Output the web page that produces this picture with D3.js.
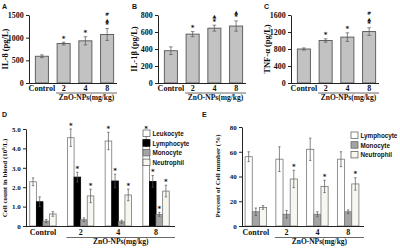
<!DOCTYPE html>
<html>
<head>
<meta charset="utf-8">
<script src="https://cdnjs.cloudflare.com/ajax/libs/d3/7.8.5/d3.min.js"></script>
<style>
  body { margin: 0; background: #fff; }
  svg text { font-family: "Liberation Serif", "Times New Roman", serif; font-weight: bold; fill: #111; }
  .letter, .legend text { font-family: "Liberation Sans", Arial, sans-serif; }
  .axis path, .axis line { stroke: #222; stroke-width: 1; }
</style>
</head>
<body>
<div id="container"></div>
<script>
const WIDTH = 400;
const HEIGHT = 248;

var DOSES = ["Control", "2", "4", "8"];

// top row: cytokines
var IL8 = [590, 870, 930, 1070];
var IL8_ERR = [30, 30, 90, 130];
var IL8_MARKS = [[], ["*"], ["*"], ["*", "▲", "#"]];

var IL1B = [380, 575, 645, 670];
var IL1B_ERR = [45, 30, 35, 60];
var IL1B_MARKS = [[], ["*"], ["*", "▲"], ["*", "▲"]];

var TNF = [800, 1000, 1080, 1210];
var TNF_ERR = [25, 40, 100, 90];
var TNF_MARKS = [[], ["*"], ["*"], ["*", "▲", "#"]];

// panel D: cell count
var CELLS_D = ["Leukocyte", "Lymphocyte", "Monocyte", "Neutrophil"];
var FILLS_D = ["#ffffff", "#000000", "#a4a4a4", "#f7f6ef"];
var LEUKOCYTE = [2.28, 4.55, 4.38, 4.45];
var LEUKOCYTE_ERR = [0.2, 0.45, 0.45, 0.35];
var LYMPH_D = [1.25, 2.52, 2.32, 2.3];
var LYMPH_D_ERR = [0.25, 0.25, 0.35, 0.3];
var MONO_D = [0.25, 0.32, 0.22, 0.6];
var MONO_D_ERR = [0.08, 0.1, 0.08, 0.1];
var NEUT_D = [0.62, 1.55, 1.6, 1.8];
var NEUT_D_ERR = [0.12, 0.35, 0.3, 0.3];
var STARS_D = [[0, 0, 0, 0], [1, 1, 0, 1], [1, 1, 0, 1], [1, 1, 1, 1]];

// panel E: percent
var CELLS_E = ["Lymphocyte", "Monocyte", "Neutrophil"];
var FILLS_E = ["#ffffff", "#a4a4a4", "#f7f6ef"];
var LYMPH_E = [56, 54, 62, 54];
var LYMPH_E_ERR = [4, 10, 9, 6];
var MONO_E = [11.5, 9.5, 9.5, 11.5];
var MONO_E_ERR = [3, 3, 2, 1.5];
var NEUT_E = [15, 38, 32, 34];
var NEUT_E_ERR = [1.5, 7, 5, 5];
var STARS_E = [[0, 0, 0], [0, 0, 1], [0, 0, 1], [0, 0, 1]];

var SVG = d3.select("#container").append("svg")
    .attr("width", WIDTH)
    .attr("height", HEIGHT);

var translate = function (x, y) {
    return "translate(" + x + "," + y + ")";
};

var drawYAxis = function (yScale, x, ticks, fmt, size) {
    SVG.append("g")
        .classed("axis", true)
        .attr("transform", translate(x, 0))
        .call(d3.axisLeft(yScale).tickValues(ticks).tickSize(3).tickSizeOuter(0).tickFormat(fmt))
        .call(function (g) {
            g.selectAll("text").style("font-size", size + "px").attr("dx", "0.1em");
        });
};

var drawXLabels = function (xScale, x0, x1, y0, labelY, underY, zY) {
    SVG.append("line")
        .attr("x1", x0).attr("x2", x1)
        .attr("y1", y0).attr("y2", y0)
        .attr("stroke", "#222");
    DOSES.forEach(function (d) {
        SVG.append("text")
            .attr("x", xScale(d) + xScale.bandwidth() / 2)
            .attr("y", labelY)
            .attr("text-anchor", "middle")
            .style("font-size", "8px")
            .text(d);
    });
    var ux0 = xScale("2") - 1;
    var ux1 = x1;
    SVG.append("line")
        .attr("x1", ux0).attr("x2", ux1)
        .attr("y1", underY).attr("y2", underY)
        .attr("stroke", "#444").attr("stroke-width", 0.8);
    SVG.append("text")
        .attr("x", (ux0 + ux1) / 2)
        .attr("y", zY)
        .attr("text-anchor", "middle")
        .style("font-size", "7.5px")
        .text("ZnO-NPs(mg/kg)");
};

var drawYTitle = function (x, y, txt, size) {
    SVG.append("text")
        .attr("transform", translate(x, y) + " rotate(-90)")
        .attr("text-anchor", "middle")
        .style("font-size", size + "px")
        .text(txt);
};

var drawLetter = function (x, y, t) {
    SVG.append("text").classed("letter", true)
        .attr("x", x).attr("y", y)
        .style("font-size", "7px")
        .text(t);
};

var drawErr = function (g, cx, yScale, v, e, w) {
    g.append("line")
        .attr("x1", cx).attr("x2", cx)
        .attr("y1", yScale(v - e)).attr("y2", yScale(v + e))
        .attr("stroke", "#555").attr("stroke-width", 0.7);
    [v - e, v + e].forEach(function (t) {
        g.append("line")
            .attr("x1", cx - w).attr("x2", cx + w)
            .attr("y1", yScale(t)).attr("y2", yScale(t))
            .attr("stroke", "#555").attr("stroke-width", 0.7);
    });
};

var drawMarks = function (g, cx, yTop, marks) {
    marks.forEach(function (m, i) {
        g.append("text")
            .attr("x", cx)
            .attr("y", yTop - 1.5 - i * 5.5)
            .attr("text-anchor", "middle")
            .style("font-size", m === "*" ? "7px" : "5px")
            .style("font-family", "DejaVu Sans, sans-serif")
            .text(m);
    });
};

var drawSimplePanel = function (opt) {
    var x = d3.scaleBand().domain(DOSES)
        .range([opt.left + 2, opt.left + 89])
        .paddingInner(0.4).paddingOuter(0.2);
    var y = d3.scaleLinear().domain([0, opt.max]).range([83, 15]);
    var g = SVG.append("g");

    g.selectAll("rect").data(opt.values)
        .enter().append("rect")
        .attr("x", function (d, i) { return x(DOSES[i]); })
        .attr("y", function (d) { return y(d); })
        .attr("width", x.bandwidth())
        .attr("height", function (d) { return y(0) - y(d); })
        .attr("fill", "#c2c2c2")
        .attr("stroke", "#555")
        .attr("stroke-width", 0.9);

    opt.values.forEach(function (v, i) {
        var cx = x(DOSES[i]) + x.bandwidth() / 2;
        drawErr(g, cx, y, v, opt.err[i], 1.8);
        drawMarks(g, cx, y(v + opt.err[i]), opt.marks[i]);
    });

    drawYAxis(y, opt.left, opt.ticks, d3.format("d"), 8);
    drawXLabels(x, opt.left, opt.left + 88, 83.5, 91, 93, 99.5);
    drawYTitle(opt.left - 21, 49, opt.title, 8.5);
    drawLetter(opt.letterX, 9, opt.letter);
};

var drawGroupedPanel = function (opt) {
    var x = d3.scaleBand().domain(DOSES)
        .range([opt.left, opt.right])
        .paddingInner(0.3).paddingOuter(0.1);
    var xi = d3.scaleBand().domain(opt.cells).range([0, x.bandwidth()]);
    var y = d3.scaleLinear().domain([0, opt.max]).range([226, opt.top]);
    var color = d3.scaleOrdinal().domain(opt.cells).range(opt.fills);
    var edge = function (c) { return color(c) === "#000000" ? "#000" : "#777"; };
    var g = SVG.append("g");

    DOSES.forEach(function (dose, gi) {
        opt.cells.forEach(function (cell, ci) {
            var v = opt.series[ci][gi];
            var e = opt.err[ci][gi];
            var bx = x(dose) + xi(cell);
            g.append("rect")
                .attr("x", bx)
                .attr("y", y(v))
                .attr("width", xi.bandwidth())
                .attr("height", y(0) - y(v))
                .attr("fill", color(cell))
                .attr("stroke", edge(cell))
                .attr("stroke-width", 0.8);
            var cx = bx + xi.bandwidth() / 2;
            drawErr(g, cx, y, v, e, 1.2);
            if (opt.stars[gi][ci]) drawMarks(g, cx, y(v + e), ["*"]);
        });
    });

    drawYAxis(y, opt.left, opt.ticks, opt.fmt, 7);
    drawXLabels(x, opt.left, opt.right + 2, 226.5, 235, 237.5, 244);

    var lg = SVG.append("g").classed("legend", true)
        .attr("transform", translate(opt.legendX, opt.legendY));
    opt.cells.forEach(function (cell, i) {
        var row = lg.append("g").attr("transform", translate(0, i * 9.7));
        row.append("rect")
            .attr("width", 7).attr("height", 6.5)
            .attr("fill", color(cell))
            .attr("stroke", edge(cell) === "#000" ? "#000" : "#666")
            .attr("stroke-width", 0.8);
        row.append("text")
            .attr("x", 9.5).attr("y", 6)
            .style("font-size", "6.3px")
            .text(cell);
    });
};

drawSimplePanel({left: 29, max: 1500, ticks: [0, 500, 1000, 1500], values: IL8, err: IL8_ERR,
    marks: IL8_MARKS, title: "IL-8 (pg/L)", letter: "A", letterX: 2});
drawSimplePanel({left: 158, max: 800, ticks: [0, 200, 400, 600, 800], values: IL1B, err: IL1B_ERR,
    marks: IL1B_MARKS, title: "IL-1β (pg/L)", letter: "B", letterX: 132});
drawSimplePanel({left: 291, max: 1600, ticks: [0, 400, 800, 1200, 1600], values: TNF, err: TNF_ERR,
    marks: TNF_MARKS, title: "TNF-α (pg/L)", letter: "C", letterX: 264});

drawGroupedPanel({left: 26, right: 173, top: 129, max: 5, ticks: [0, 1, 2, 3, 4, 5],
    fmt: function (d) { return d === 0 ? "0" : d3.format(".1f")(d); },
    cells: CELLS_D, fills: FILLS_D, series: [LEUKOCYTE, LYMPH_D, MONO_D, NEUT_D],
    err: [LEUKOCYTE_ERR, LYMPH_D_ERR, MONO_D_ERR, NEUT_D_ERR], stars: STARS_D,
    legendX: 143, legendY: 130});
drawYTitle(7, 178, "Cell count  in blood (10⁹/L)", 7);
drawLetter(2, 117, "D");

drawGroupedPanel({left: 242, right: 362, top: 127, max: 80, ticks: [0, 20, 40, 60, 80],
    fmt: d3.format("d"),
    cells: CELLS_E, fills: FILLS_E, series: [LYMPH_E, MONO_E, NEUT_E],
    err: [LYMPH_E_ERR, MONO_E_ERR, NEUT_E_ERR], stars: STARS_E,
    legendX: 351, legendY: 132});
drawYTitle(220, 176, "Percent of Cell number  (%)", 7);
drawLetter(202, 117, "E");
</script>
</body>
</html>
